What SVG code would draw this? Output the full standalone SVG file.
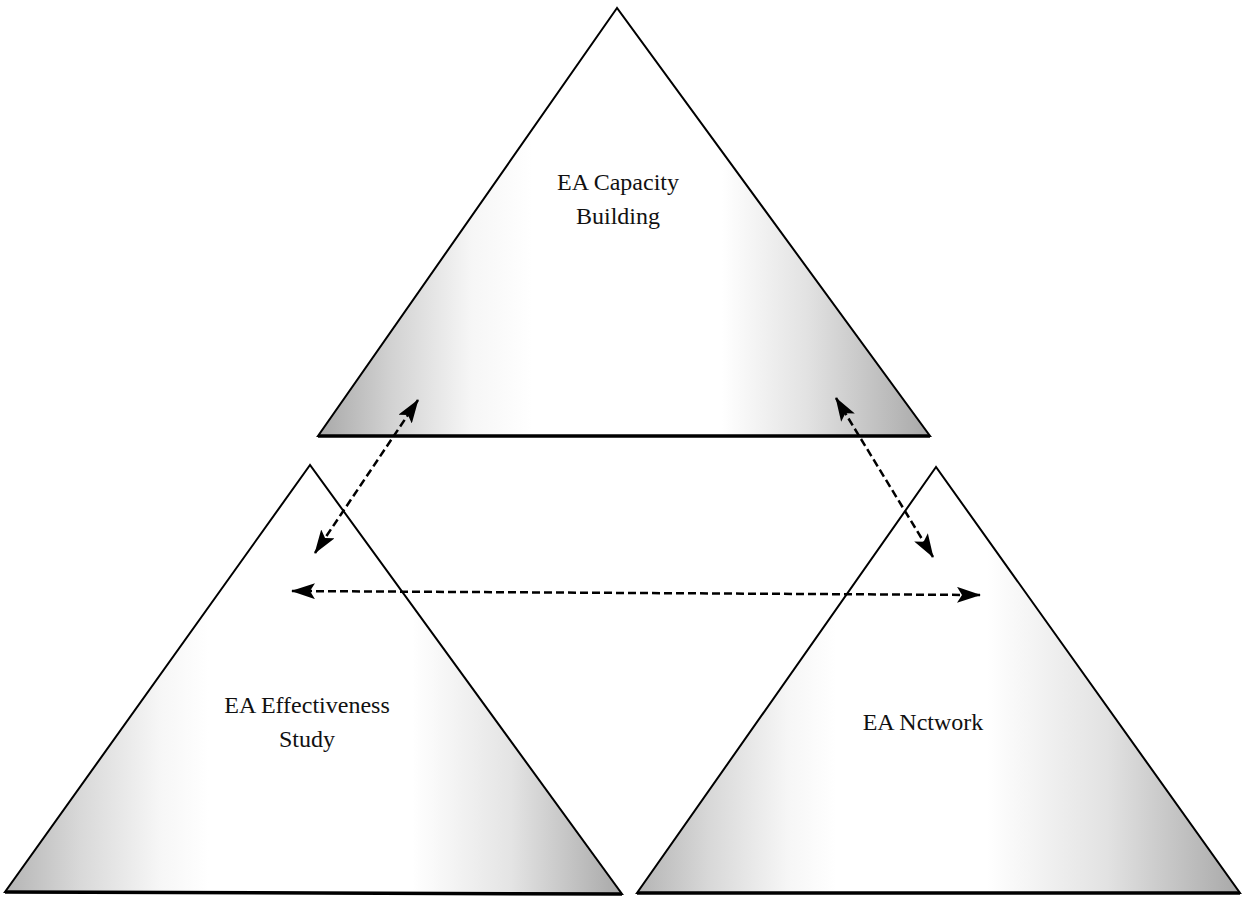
<svg xmlns="http://www.w3.org/2000/svg" width="1243" height="902" viewBox="0 0 1243 902">
<style>
.tri{stroke:#000;stroke-width:2;stroke-linejoin:miter}
.base{stroke:#000;stroke-width:3.5;fill:none}
.lbl{font-family:"Liberation Serif",serif;font-size:24px;fill:#111;text-anchor:middle}
.conn{stroke:#000;stroke-width:2.5;stroke-dasharray:8 4;fill:none}
</style>
<defs>
<linearGradient id="gTop" gradientUnits="userSpaceOnUse" x1="318" y1="0" x2="930" y2="0">
<stop offset="0" stop-color="#a8a8a8"/><stop offset="0.12" stop-color="#d2d2d2"/><stop offset="0.25" stop-color="#f6f6f6"/><stop offset="0.35" stop-color="#fff"/><stop offset="0.66" stop-color="#fff"/><stop offset="0.8" stop-color="#e2e2e2"/><stop offset="1" stop-color="#a8a8a8"/>
</linearGradient>
<linearGradient id="gL" gradientUnits="userSpaceOnUse" x1="5" y1="0" x2="622" y2="0">
<stop offset="0" stop-color="#b4b4b4"/><stop offset="0.12" stop-color="#d8d8d8"/><stop offset="0.25" stop-color="#f6f6f6"/><stop offset="0.33" stop-color="#fff"/><stop offset="0.66" stop-color="#fff"/><stop offset="0.82" stop-color="#e4e4e4"/><stop offset="1" stop-color="#a8a8a8"/>
</linearGradient>
<linearGradient id="gR" gradientUnits="userSpaceOnUse" x1="637" y1="0" x2="1240" y2="0">
<stop offset="0" stop-color="#b4b4b4"/><stop offset="0.12" stop-color="#d8d8d8"/><stop offset="0.25" stop-color="#f6f6f6"/><stop offset="0.33" stop-color="#fff"/><stop offset="0.58" stop-color="#fff"/><stop offset="0.78" stop-color="#e2e2e2"/><stop offset="1" stop-color="#a8a8a8"/>
</linearGradient>
<marker id="ah" viewBox="0 0 24 16" refX="23" refY="8" markerWidth="24" markerHeight="16" markerUnits="userSpaceOnUse" orient="auto-start-reverse">
<path d="M0,0 L24,8 L0,16 L5,8 Z" fill="#000"/>
</marker>
</defs>
<g id="node-capacity">
<polygon class="tri" points="617,8 318,436 930,436" fill="url(#gTop)"/>
<line class="base" x1="318" y1="436" x2="930" y2="436"/>
<text class="lbl" x="618" y="190">EA Capacity</text>
<text class="lbl" x="618" y="224">Building</text>
</g>
<g id="node-effectiveness">
<polygon class="tri" points="310,465 5,892 622,894" fill="url(#gL)"/>
<line class="base" x1="5" y1="892" x2="622" y2="894"/>
<text class="lbl" x="307" y="713">EA Effectiveness</text>
<text class="lbl" x="307" y="747">Study</text>
</g>
<g id="node-network">
<polygon class="tri" points="936,467 637,893 1240,893" fill="url(#gR)"/>
<line class="base" x1="637" y1="893" x2="1240" y2="893"/>
<text class="lbl" x="923" y="730">EA Nctwork</text>
</g>
<g id="connectors">
<line class="conn" x1="418" y1="400" x2="315" y2="553" marker-start="url(#ah)" marker-end="url(#ah)"/>
<line class="conn" x1="836" y1="398" x2="933" y2="557" marker-start="url(#ah)" marker-end="url(#ah)"/>
<line class="conn" x1="292" y1="591" x2="980" y2="595" marker-start="url(#ah)" marker-end="url(#ah)"/>
</g>
</svg>
